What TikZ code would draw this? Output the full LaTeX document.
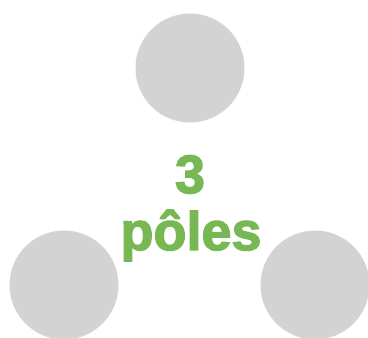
\documentclass[tikz,border=0pt]{standalone}
\usepackage{fontspec}
\setmainfont{Liberation Sans}
\newfontfamily\heavyfont[FakeBold=2.5]{Liberation Sans Bold}
\definecolor{polegray}{HTML}{D3D3D3}
\definecolor{polegreen}{HTML}{77B855}
\tikzset{
  pole/.style={circle,fill=polegray,minimum size=109pt,inner sep=0pt},
  bigtext/.style={text=polegreen,font=\heavyfont\fontsize{54}{60}\selectfont,inner sep=0pt,anchor=base}
}
\begin{document}
\begin{tikzpicture}[x=1pt,y=-1pt]
\useasboundingbox (0,0) rectangle (368,338);

\node[pole] (top) at (190,68) {};
\node[pole] (left) at (64,285) {};
\node[pole] (right) at (315,285) {};

\node[bigtext] (num) at (190,193) {3};
\node[bigtext] (word) at (191,250) {pôles};
\end{tikzpicture}
\end{document}
